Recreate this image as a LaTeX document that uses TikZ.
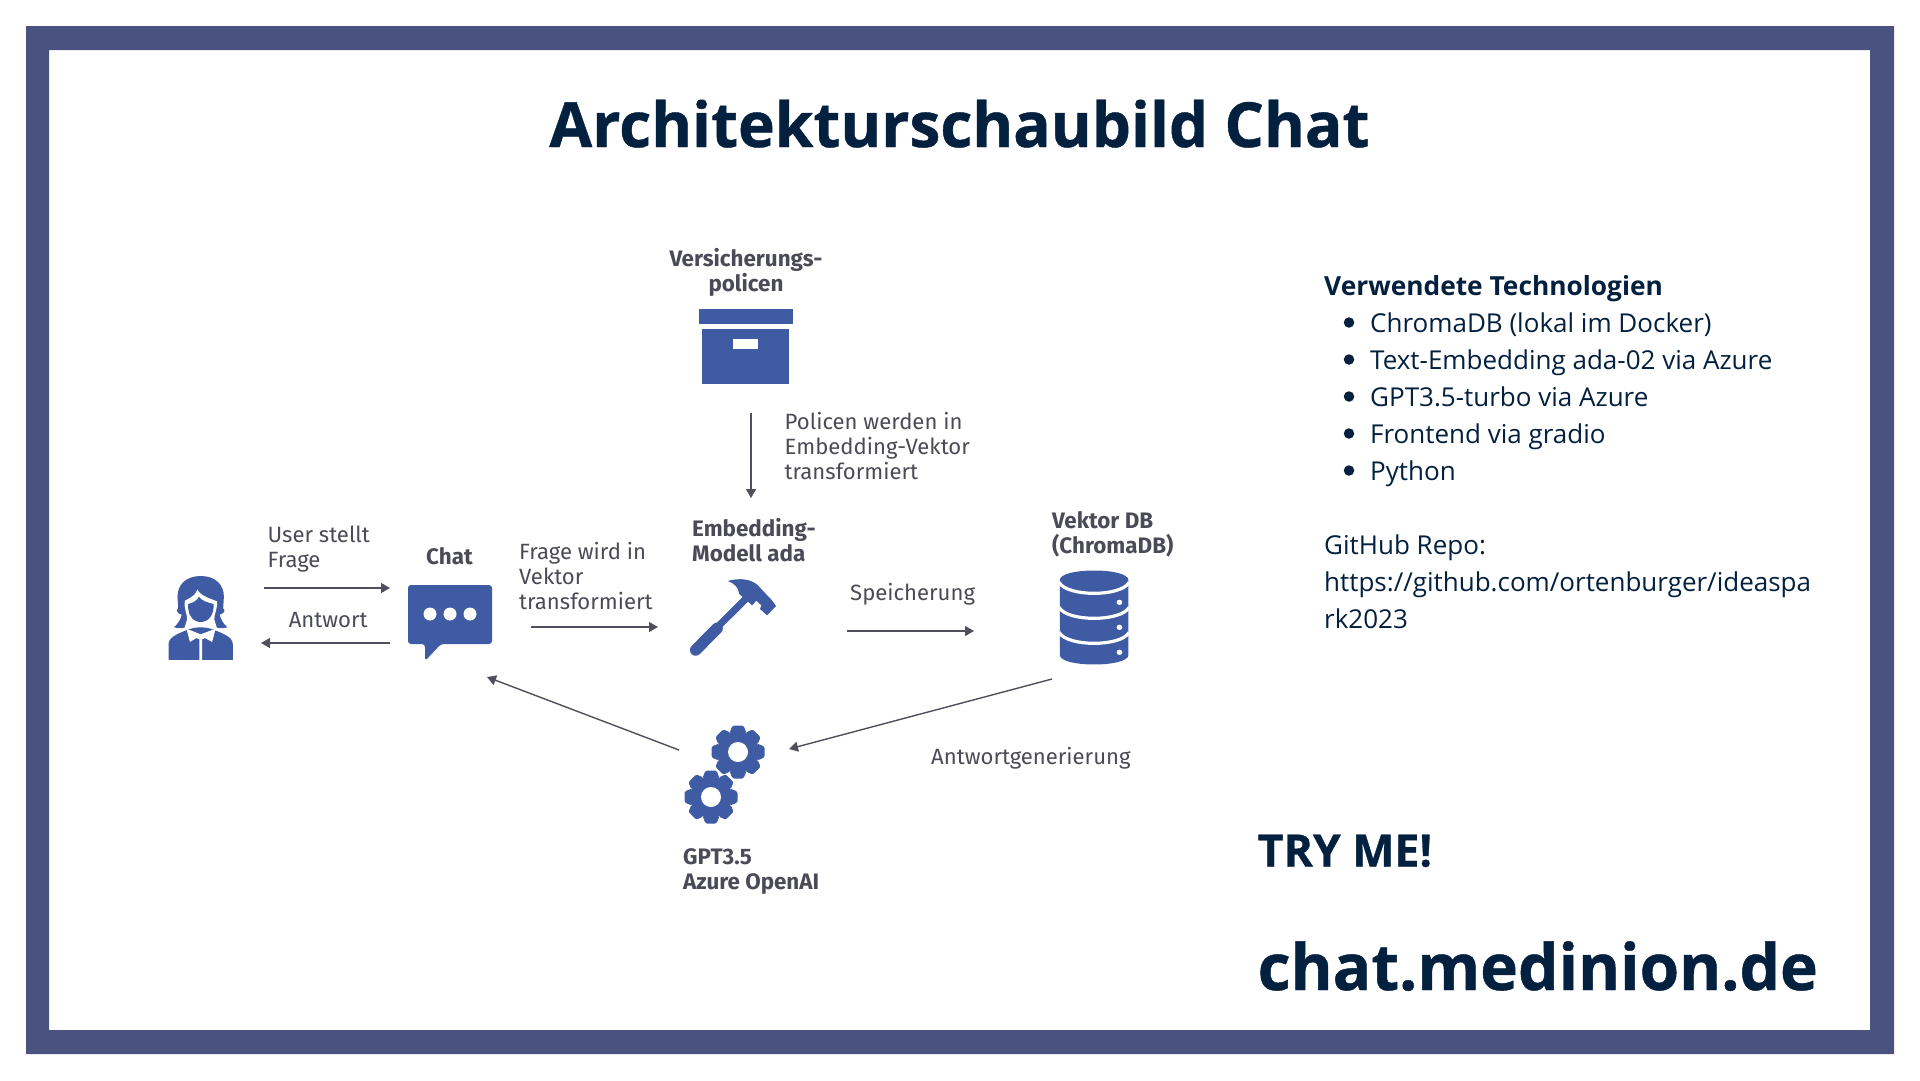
\documentclass[tikz,border=0pt]{standalone}
\usepackage{fontspec}
\setmainfont{Open Sans}
\newfontfamily\diag{Fira Sans}
\newfontfamily\heavy[FakeBold=0.7]{Open Sans Bold}
\definecolor{frame}{HTML}{4A5280}
\definecolor{iconblue}{HTML}{3F5BA3}
\definecolor{greytxt}{HTML}{4B4B57}
\definecolor{arrowc}{HTML}{50505C}
\definecolor{navy}{HTML}{03203F}
\usetikzlibrary{arrows.meta}
\tikzset{
  lbl/.style={inner sep=0pt,align=left,anchor=base west,text=greytxt,font=\diag\fontsize{22.1}{24.6}\selectfont},
  lblb/.style={lbl,font=\diag\bfseries\fontsize{22.4}{24.6}\selectfont},
  flow/.style={draw=arrowc,line width=1.4pt,-{Triangle[length=9pt,width=10pt]}},
  icon/.style={fill=iconblue,draw=none},
  knock/.style={fill=white,draw=none},
  rt/.style={inner sep=0pt,anchor=base west,text=navy,font=\fontsize{26}{37}\selectfont},
  bul/.style={circle,fill=navy,inner sep=0pt,minimum size=10.5pt},
  gearp/.pic={
    \fill[iconblue] (0,0) circle (21);
    \foreach \a in {0,45,...,315}{
      \fill[iconblue,rotate=\a,rounded corners=1.5pt] (-8.5,-19) -- (-5.5,-26.5) -- (5.5,-26.5) -- (8.5,-19) -- cycle;}
    \fill[white] (0,0) circle (10);
  },
}
\begin{document}
\begin{tikzpicture}[x=1pt,y=-1pt]
\useasboundingbox (0,0) rectangle (1920,1080);
\fill[white] (0,0) rectangle (1920,1080);
\fill[frame,even odd rule] (26,26) rectangle (1894,1054) (49,50) rectangle (1870,1030);

\node[inner sep=0pt,anchor=base,text=navy,font=\heavy\fontsize{62.2}{70}\selectfont] (title) at (959.5,147) {Architekturschaubild Chat};

% person
\begin{scope}[shift={(120,480)},x=0.357pt,y=-0.3333pt]
  \path[icon] (226,288) .. controls (268,288) and (291,315) .. (291,350) -- (289,385) .. controls (298,392) and (289,402) .. (279,404)
     .. controls (283,420) and (290,432) .. (301,442) .. controls (285,447) and (268,445) .. (258,436) -- (194,436)
     .. controls (184,445) and (167,447) .. (151,442) .. controls (162,432) and (169,420) .. (173,404)
     .. controls (163,402) and (154,392) .. (163,385) -- (161,350) .. controls (161,315) and (184,288) .. (226,288) -- cycle;
  \path[knock] (217,328) .. controls (222,345) and (250,355) .. (272,364) .. controls (274,385) and (264,400) .. (264,418) -- (272,446) -- (180,446) -- (188,418) .. controls (188,400) and (178,385) .. (182,362) .. controls (200,352) and (212,345) .. (217,328) -- cycle;
  \path[icon] (191,372) .. controls (208,368) and (216,360) .. (221,350) .. controls (228,362) and (245,368) .. (262,372) .. controls (264,405) and (248,426) .. (226,426) .. controls (204,426) and (189,405) .. (191,372) -- cycle;
  \path[icon] (136,540) -- (136,492) .. controls (136,468) and (175,456) .. (195,447) .. controls (215,440) and (237,440) .. (257,447) .. controls (277,456) and (316,468) .. (316,492) -- (316,540) -- cycle;
  \path[knock] (226,463) -- (186,446) -- (196,486) -- (214,474) -- (222,478) -- (222,540) -- (230,540) -- (230,478) -- (238,474) -- (258,486) -- (268,446) -- cycle;
\end{scope}
\coordinate (p1) at (264,588);
\coordinate (p2) at (261,643);

% chat bubble
\path[icon,rounded corners=3pt] (408,585) -- (492,585) -- (492,644) -- (441,644) -- (425,661) -- (425,644) -- (408,644) -- cycle;
\foreach \x in {430,450,470}{\fill[white] (\x,614) circle (6.5);}
\coordinate (c1) at (390,588);
\coordinate (c2) at (390,643);
\coordinate (c3) at (531,627);
\coordinate (c4) at (487,677);

\node[lbl] (userq) at (267.5,567) {User stellt\\Frage};
\node[lbl] (antw) at (288.6,627) {Antwort};
\node[lblb] (chat) at (426,564) {Chat};
\node[lbl] (fragew) at (519,609) {Frage wird in\\Vektor\\transformiert};

% archive box
\fill[iconblue] (699,309) rectangle (793,324);
\fill[iconblue] (702,329) rectangle (789,384);
\fill[white] (733,339) rectangle (758,349);
\node[lblb,align=center,anchor=base] (vers) at (746,291) {Versicherungs-\\policen};
\node[lbl] (polw) at (784.5,479) {Policen werden in\\Embedding-Vektor\\transformiert};
\coordinate (b1) at (751,413);
\coordinate (e1) at (751,498);
\coordinate (e2) at (658,627);

% hammer
\node[lblb] (emb) at (692,561) {Embedding-\\Modell ada};
\begin{scope}[shift={(660,500)},x=0.357pt,y=-0.3333pt]
  \draw[iconblue,line width=7pt] (160,382) -- (256,280);
  \draw[iconblue,line width=11.5pt,line cap=round] (100,450) -- (160,385);
  \path[icon,line join=round] (190,243) .. controls (225,232) and (258,238) .. (276,258) -- (302,288) -- (310,296) -- (325,318) -- (300,346) -- (280,327) -- (284,316) -- (270,302) -- (258,316) -- (222,282) .. controls (220,262) and (208,250) .. (190,243) -- cycle;
\end{scope}
\coordinate (e3) at (847,631);
\coordinate (d1) at (974,631);

% database
\node[lblb] (vdb) at (1052,553) {Vektor DB\\(ChromaDB)};
\node[lbl] (spei) at (850,600) {Speicherung};
\begin{scope}[shift={(660,500)},x=0.357pt,y=-0.3333pt]
  \path[icon] (1120,240) .. controls (1120,202) and (1312,202) .. (1312,240) -- (1312,465) .. controls (1312,503) and (1120,503) .. (1120,465) -- cycle;
  \foreach \y in {247,322,397}{
    \draw[white,line width=3.2pt] (1118,\y) .. controls (1140,\y+44) and (1292,\y+44) .. (1314,\y);}
  \foreach \y in {307,382,457}{\fill[white] (1287,\y) circle (8);}
\end{scope}
\coordinate (d2) at (1052,679);

% gears
\pic at (738,752) {gearp};
\pic at (711,797) {gearp};
\coordinate (g1) at (789,749);
\coordinate (g2) at (679,750);
\node[lblb] (gpt) at (683,889) {GPT3.5\\Azure OpenAI};
\node[lbl] (agen) at (931,764) {Antwortgenerierung};

% connectors
\draw[flow] (p1) -- (c1);
\draw[flow] (c2) -- (p2);
\draw[flow] (c3) -- (e2);
\draw[flow] (b1) -- (e1);
\draw[flow] (e3) -- (d1);
\draw[flow] (d2) -- (g1);
\draw[flow] (g2) -- (c4);

% right column
\node[rt,font=\bfseries\fontsize{26.3}{37}\selectfont] (tech) at (1324,295) {Verwendete Technologien};
\node[rt] (l1) at (1370,332) {ChromaDB (lokal im Docker)};
\node[rt] (l2) at (1370,369) {Text-Embedding ada-02 via Azure};
\node[rt] (l3) at (1370,406) {GPT3.5-turbo via Azure};
\node[rt] (l4) at (1370,443) {Frontend via gradio};
\node[rt] (l5) at (1370,480) {Python};
\foreach \y in {322.5,359.5,396.5,433.5,470.5}{\node[bul] at (1349,\y) {};}
\node[rt,align=left] (gh) at (1324,628) {GitHub Repo:\\https://github.com/ortenburger/ideaspa\\rk2023};

\node[rt,font=\heavy\fontsize{44.6}{50}\selectfont] (try) at (1257.5,866.5) {TRY ME!};
\node[rt,font=\heavy\fontsize{64}{75}\selectfont] (url) at (1257.5,990) {chat.medinion.de};
\end{tikzpicture}
\end{document}
